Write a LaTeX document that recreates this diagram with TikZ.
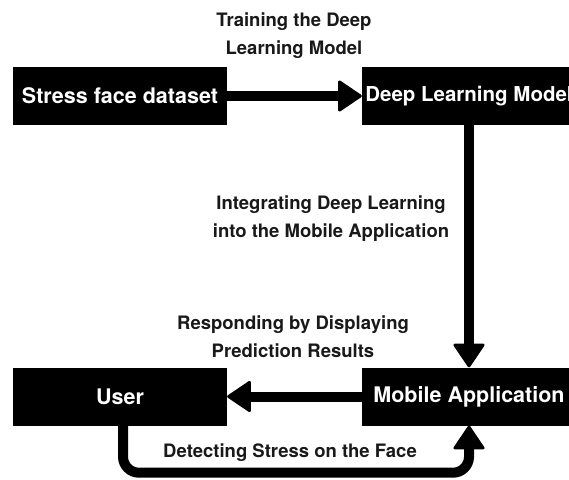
\documentclass[tikz,border=0pt]{standalone}
\usepackage{fontspec}
\setmainfont{TeX Gyre Heros}
\usetikzlibrary{arrows.meta}
\begin{document}
\begin{tikzpicture}[x=1pt,y=-1pt,
  block/.style={fill=black,text=white,minimum width=214pt,minimum height=58pt,
    inner sep=0pt,font=\fontsize{21.5}{24}\selectfont\bfseries},
  flow/.style={line width=10pt,
    -{Triangle[length=25pt,width=33pt,line width=3pt,round]}},
  lbl/.style={align=center,text=black!90,font=\fontsize{18.5}{28}\selectfont\bfseries}
]
\useasboundingbox (0,0) rectangle (569,479);
\clip (0,0) rectangle (569,479);

% blocks
\node[block] (data)   at (120,96)    {Stress face dataset};
\node[block,font=\fontsize{20.5}{24}\selectfont\bfseries] (model) at (469,96) {Deep Learning Model};
\node[block] (user)   at (120,396.5) {User};
\node[block] (mobile) at (469,396.5) {Mobile Application};

% connectors
\draw[flow] (data) -- (model);
\draw[flow] (model) -- (mobile);
\draw[flow] (mobile) -- (user);
\coordinate (ubot) at ([xshift=3pt]user.south);
\draw[flow,rounded corners=16pt] (ubot) -- ++(0,47) -| (mobile.south);

% labels
\node[lbl] (l1) at (294,36)    {Training the Deep\\Learning Model};
\node[lbl] (l2) at (331,219)   {Integrating Deep Learning\\into the Mobile Application};
\node[lbl] (l3) at (293,336.5) {Responding by Displaying\\Prediction Results};
\node[lbl] (l4) at (290,453)   {Detecting Stress on the Face};
\end{tikzpicture}
\end{document}
